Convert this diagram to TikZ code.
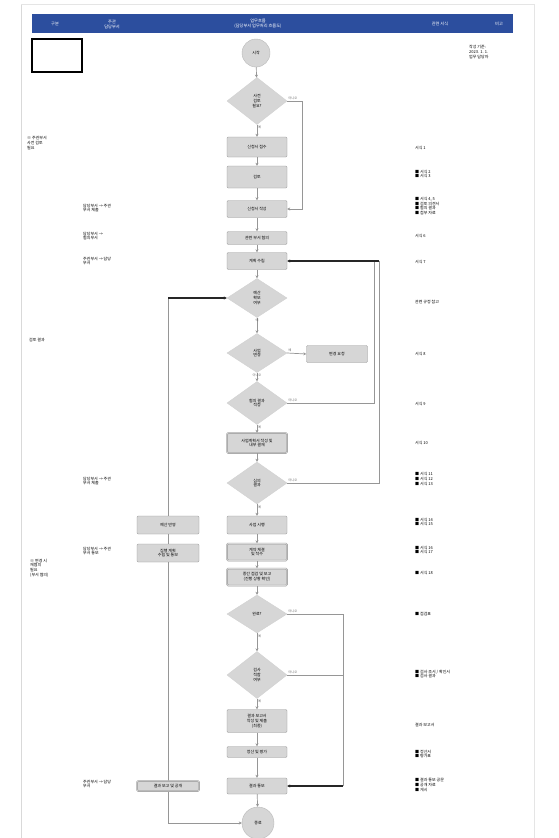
\documentclass[tikz,border=0pt]{standalone}
\usepackage{fontspec}
\newfontfamily\kr{Noto Sans CJK KR}
\usepackage{xcolor}
\usetikzlibrary{shapes.geometric,arrows.meta,positioning}
\definecolor{hdrblue}{RGB}{44,78,158}
\definecolor{boxgray}{RGB}{214,214,214}
\definecolor{linegray}{RGB}{150,150,150}
\tikzset{
  every node/.style={font=\kr\fontsize{4}{4.8}\selectfont, align=center, inner sep=1pt},
  proc/.style={rectangle, rounded corners=1.2pt, draw=linegray, fill=boxgray, minimum width=60pt, inner sep=0.5pt},
  procd/.style={proc, double=boxgray, double distance=0.7pt},
  dec/.style={diamond, fill=boxgray, draw=gray!35, minimum width=60pt, inner sep=0pt},
  term/.style={circle, fill=boxgray, draw=gray!55, minimum size=28pt, inner sep=0pt},
  flow/.style={draw=linegray, line width=0.7pt, -{Stealth[length=3pt,width=3pt]}},
  wire/.style={draw=linegray, line width=0.7pt},
  heavy/.style={draw=black!85, line width=1.3pt},
  note/.style={anchor=west, align=left},
  hdr/.style={text=white, font=\kr\fontsize{4.2}{5}\selectfont},
  tag/.style={font=\kr\fontsize{3.2}{3.6}\selectfont, text=gray!80!black}
}
\begin{document}
\begin{tikzpicture}[x=1pt,y=-1pt]
	\useasboundingbox (0,0) rectangle (558,838);
	\fill[white] (0,0) rectangle (558,838);
	\draw[gray!30] (21,4) -- (21,838); % borde pagina
	\draw[gray!20] (21,4) -- (534,4) -- (534,838);
	% cabecera
	\fill[hdrblue] (32,14) rectangle (513,33);
	\node[hdr] (h1) at (55,24) {구분};
	\node[hdr] (h2) at (112,24) {주관\\담당부서};
	\node[hdr] (h3) at (258,24) {업무흐름\\(담당부서 업무처리 흐름도)};
	\node[hdr] (h4) at (440,24) {관련 서식};
	\node[hdr] (h5) at (499,24) {비고};
	\draw[line width=1.5pt] (32,39) rectangle (82,72);
	\node[note] (ref) at (468,52) {작성 기준:\\2023. 1. 1.\\업무 담당자};

	% columna principal
	\node[term] (start) at (256,53) {시작};
	\node[dec, minimum height=47pt] (d1) at (257,101) {사전\\검토\\필요?};
	\node[proc, minimum height=20pt] (b1) at (257,147) {신청서 접수};
	\node[proc, minimum height=22pt] (b2) at (257,177) {검토};
	\node[proc, minimum height=17pt] (b3) at (257,209) {신청서 작성};
	\node[proc, minimum height=13pt] (b4) at (257,238) {관련 부서 협의};
	\node[proc, minimum height=17pt] (b5) at (257,261) {계획 수립};
	\node[dec, minimum height=39pt] (d2) at (257,298) {예산\\확보\\여부};
	\node[dec, minimum height=39pt] (d3) at (257,353) {사업\\변경};
	\node[proc, minimum height=17pt, minimum width=61pt] (r1) at (337,354) {변경 요청};
	\node[dec, minimum height=43pt] (d4) at (257,403) {협의 결과\\적정};
	\node[procd, minimum height=20pt] (b6) at (257,443) {사업계획서 작성 및\\내부 결재};
	\node[dec, minimum height=42pt] (d5) at (257,483) {심의\\결과};
	\node[proc, minimum height=18pt] (b7) at (257,525) {사업 시행};
	\node[procd, minimum height=17pt] (b8) at (257,552) {계약 체결\\및 착수};
	\node[procd, minimum height=17pt] (b9) at (257,577) {중간 점검 및 보고\\(진행 상황 확인)};
	\node[dec, minimum height=38pt] (d6) at (257,614) {완료?};
	\node[dec, minimum height=47pt] (d7) at (257,675) {검사\\적합\\여부};
	\node[proc, minimum height=23pt] (b10) at (257,721) {결과 보고서\\작성 및 제출\\(최종)};
	\node[proc, minimum height=11pt] (b11) at (257,752) {정산 및 평가};
	\node[proc, minimum height=16pt] (b12) at (257,786) {결과 통보};
	\node[term, minimum size=32pt] (stop) at (258,823) {종료};

	% columna izquierda
	\node[proc, minimum width=62pt, minimum height=18pt] (l1) at (168,525) {예산 반영};
	\node[proc, minimum width=62pt, minimum height=18pt] (l2) at (168,553) {집행 계획\\수립 및 통보};

	\foreach \a/\b in {start/d1, d1/b1, b1/b2, b2/b3, b3/b4, b4/b5, b5/d2, d2/d3, d3/d4, d4/b6, b6/d5, d5/b7, b7/b8, b8/b9, b9/d6, d6/d7, d7/b10, b10/b11, b11/b12, b12/stop}
		\draw[flow] (\a) -- (\b);
	\draw[flow] (d3.east) -- (r1.west);
	\draw[flow] (d1.east) -- (302,101) |- (b3.east);
	\draw[wire] (d4.east) -| (374,261);
	\draw[wire] (d5.east) -| (379,261);
	\draw[heavy, -{Stealth[length=3pt,width=3pt]}] (379,261) -- (b5.east);
	\coordinate (k1) at (l1.north |- d2.west);
	\draw[wire] (l1.north) -- (k1);
	\draw[heavy, -{Stealth[length=3pt,width=3pt]}] (k1) -- (d2.west);
	\draw[wire] (l1) -- (l2);
	\draw[flow] (l2.south) |- (stop.west);
	\draw[wire] (d6.east) -| (343,786);
	\draw[wire] (d7.east) -- (343,675);
	\draw[heavy, -{Stealth[length=3pt,width=3pt]}] (343,786) -- (b12.east);
	\node[procd, minimum width=62pt, minimum height=10pt] (l3) at (168,786) {결과 보고 및 공개};

	% etiquetas de ramas
	\node[tag, above right] at (d1.east) {아니오};
	\node[tag, above right] at (d3.east) {예};
	\node[tag, above right] at (d4.east) {아니오};
	\node[tag, above right] at (d5.east) {아니오};
	\node[tag, above right] at (d6.east) {아니오};
	\node[tag, above right] at (d7.east) {아니오};
	\node[tag, below right] at (d1.south) {예};
	\node[tag, below] at (d2.south) {예};
	\node[tag, below] at (d3.south) {아니오};
	\node[tag, below right] at (d4.south) {예};
	\node[tag, below right] at (d5.south) {예};
	\node[tag, below right] at (d6.south) {예};
	\node[tag, below right] at (d7.south) {예};

	% notas izquierda
	\node[note] (n1) at (26,143) {※ 주관부서\\사전 검토\\필요};
	\node[note] (n2) at (28,340) {검토 결과};
	\node[note] (n3) at (29,568) {※ 변경 시\\재협의\\필요\\(부서 협의)};
	\node[note] (m1) at (82,208) {담당부서 → 주관\\부서 제출};
	\node[note] (m2) at (82,236) {담당부서 →\\협의부서};
	\node[note] (m3) at (82,261) {주관부서 → 담당\\부서};
	\node[note] (m4) at (82,481) {담당부서 → 주관\\부서 제출};
	\node[note] (m5) at (82,551) {담당부서 → 주관\\부서 통보};
	\node[note] (m6) at (82,784) {주관부서 → 담당\\부서};

	% notas derecha
	\node[note] (s1) at (414,148) {서식 1};
	\node[note] (s2) at (414,174) {■ 서식 2\\■ 서식 3};
	\node[note] (s3) at (414,206) {■ 서식 4, 5\\■ 검토 의견서\\■ 협의 결과\\■ 첨부 자료};
	\node[note] (s4) at (414,236) {서식 6};
	\node[note] (s5) at (414,262) {서식 7};
	\node[note] (s6) at (414,302) {관련 규정 참고};
	\node[note] (s7) at (414,354) {서식 8};
	\node[note] (s8) at (414,404) {서식 9};
	\node[note] (s9) at (414,443) {서식 10};
	\node[note] (s10) at (414,479) {■ 서식 11\\■ 서식 12\\■ 서식 13};
	\node[note] (s11) at (414,522) {■ 서식 14\\■ 서식 15};
	\node[note] (s12) at (414,550) {■ 서식 16\\■ 서식 17};
	\node[note] (s13) at (414,573) {■ 서식 18};
	\node[note] (s14) at (414,614) {■ 점검표};
	\node[note] (s15) at (414,674) {■ 검사 조서 / 확인서\\■ 검사 결과};
	\node[note] (s16) at (414,725) {결과 보고서};
	\node[note] (s17) at (414,754) {■ 정산서\\■ 평가표};
	\node[note] (s18) at (414,785) {■ 결과 통보 공문\\■ 공개 자료\\■ 게시};
\end{tikzpicture}
\end{document}
